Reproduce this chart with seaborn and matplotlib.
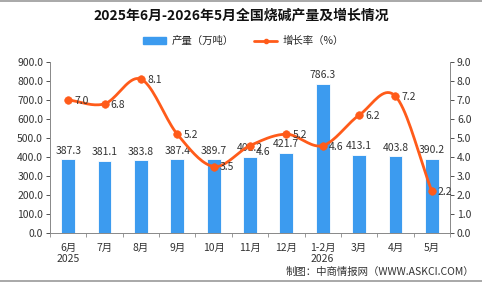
import numpy as np
import pandas as pd
import matplotlib
matplotlib.use("Agg")
import matplotlib.pyplot as plt
import seaborn as sns
from matplotlib.lines import Line2D
from matplotlib.patches import Patch

months = ["6月\n2025", "7月", "8月", "9月", "10月", "11月", "12月", "1-2月\n2026", "3月", "4月", "5月"]
output = [387.3, 381.1, 383.8, 387.4, 389.7, 401.2, 421.7, 786.3, 413.1, 403.8, 390.2]
growth = [7.0, 6.8, 8.1, 5.2, 3.5, 4.6, 5.2, 4.6, 6.2, 7.2, 2.2]

bar_color = "#3C9BEF"
line_color = "#FF5B1A"

sns.set_theme(style="white")
plt.rcParams["font.family"] = ["Noto Sans CJK SC", "DejaVu Sans"]

df = pd.DataFrame({"month": months, "output": output, "growth": growth})

fig = plt.figure(figsize=(4.82, 2.84), dpi=100)
ax = fig.add_axes([50 / 482, 1 - 233 / 284, 400 / 482, 171 / 284])

sns.barplot(data=df, x="month", y="output", color=bar_color, width=0.38,
            saturation=1, ax=ax, edgecolor="white", linewidth=0.6)
ax.set_ylim(0, 900)
ax.set_xlim(-0.5, 10.5)
ax.set_yticks(np.arange(0, 901, 100))
ax.set_yticklabels([f"{v:.1f}" for v in np.arange(0, 901, 100)], fontsize=7.5, color="#333333")
ax.set_xlabel("")
ax.set_ylabel("")
ax.tick_params(axis="x", length=0, labelsize=7.5, colors="#333333", pad=7)
ax.tick_params(axis="y", length=3, direction="out", colors="#333333", width=0.6, pad=2)
ax.set_xticks(np.arange(-0.5, 11, 1), minor=True)
ax.tick_params(axis="x", which="minor", length=3, width=0.6, color="#888888", bottom=True)
for s in ["top", "right"]:
    ax.spines[s].set_visible(False)
for s in ["left", "bottom"]:
    ax.spines[s].set_color("#888888")
    ax.spines[s].set_linewidth(0.7)
for i, v in enumerate(output):
    ax.text(i, v + 18, f"{v:.1f}", ha="center", va="bottom", fontsize=7.5, color="#333333")

ax2 = ax.twinx()
ax2.set_ylim(0, 9)
ax2.set_yticks(np.arange(0, 10, 1))
ax2.set_yticklabels([f"{v:.1f}" for v in np.arange(0, 10, 1)], fontsize=7.5, color="#333333")
ax2.tick_params(axis="y", length=3, direction="out", colors="#333333", width=0.6, pad=2)
for s in ["top", "left", "bottom"]:
    ax2.spines[s].set_visible(False)
ax2.spines["right"].set_color("#888888")
ax2.spines["right"].set_linewidth(0.7)

# smooth curve through the points (Catmull-Rom)
x = np.arange(len(growth), dtype=float)
y = np.array(growth)
px = np.concatenate([[2 * x[0] - x[1]], x, [2 * x[-1] - x[-2]]])
py = np.concatenate([[2 * y[0] - y[1]], y, [2 * y[-1] - y[-2]]])


def cr(p0, p1, p2, p3, t):
    return 0.5 * (2 * p1 + (-p0 + p2) * t + (2 * p0 - 5 * p1 + 4 * p2 - p3) * t ** 2
                  + (-p0 + 3 * p1 - 3 * p2 + p3) * t ** 3)


sx, sy = [], []
t = np.linspace(0, 1, 20)
for i in range(1, len(px) - 2):
    sx.append(cr(px[i - 1], px[i], px[i + 1], px[i + 2], t))
    sy.append(cr(py[i - 1], py[i], py[i + 1], py[i + 2], t))
ax2.plot(np.concatenate(sx), np.concatenate(sy), color=line_color, lw=2)
sns.scatterplot(x=x, y=y, color=line_color, s=30, edgecolor=line_color, ax=ax2, zorder=5)
for i, v in enumerate(growth):
    dy = -0.35 if i == 5 else -0.05
    ax2.text(i + 0.17, v + dy, f"{v:.1f}", ha="left", va="center", fontsize=7.5, color="#333333")

fig.text(0.5, 1 - 16 / 284, "2025年6月-2026年5月全国烧碱产量及增长情况", ha="center", va="center",
         fontsize=10, fontweight="bold", color="#111111")
handles = [Patch(color=bar_color, label="产量（万吨）"),
           Line2D([], [], color=line_color, lw=2, marker="o", markersize=3, label="增长率（%）")]
fig.legend(handles=handles, loc="center", bbox_to_anchor=(0.505, 1 - 41 / 284), ncol=2,
           frameon=False, fontsize=7.5, handlelength=2.2, handleheight=0.6, columnspacing=2.0,
           handletextpad=0.5)
fig.text(474 / 482, 1 - 272 / 284, "制图：中商情报网（WWW.ASKCI.COM）", ha="right", va="center",
         fontsize=7.5, color="#333333")
fig.add_artist(Line2D([0, 1], [0.998, 0.998], color="#999999", lw=1.2, transform=fig.transFigure))
fig.add_artist(Line2D([0, 1], [1 - 281 / 284, 1 - 281 / 284], color="#999999", lw=1.2, transform=fig.transFigure))

fig.savefig("out.png", dpi=100)
